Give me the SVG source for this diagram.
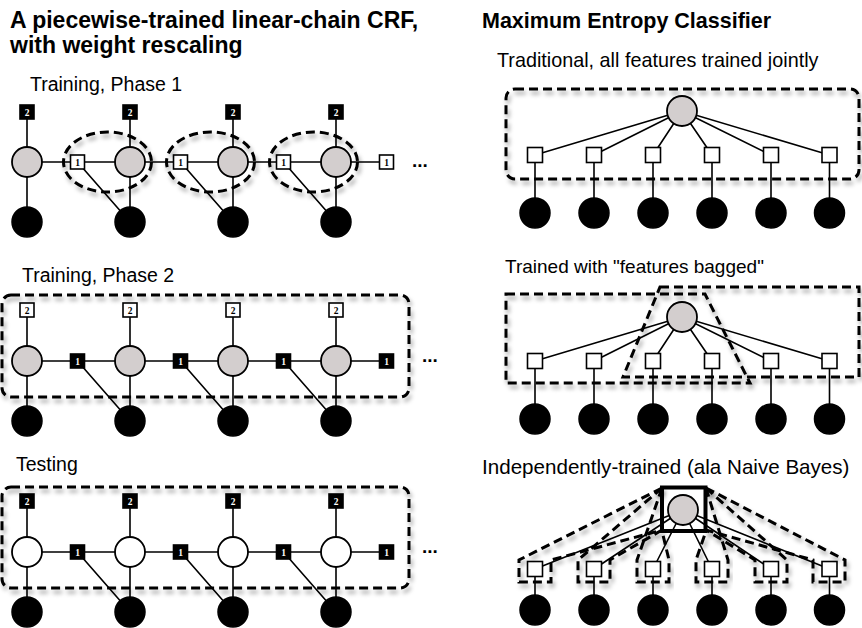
<svg xmlns="http://www.w3.org/2000/svg" width="862" height="628" viewBox="0 0 862 628">
<style>
.t{font-family:"Liberation Sans",Arial,sans-serif;fill:#000}
.title{font-size:21.5px;font-weight:bold}
.sub{font-size:19.5px}
.ln{stroke:#000;stroke-width:1.6;fill:none}
.gc{fill:#d3cece;stroke:#000;stroke-width:1.8}
.wc{fill:#fff;stroke:#000;stroke-width:1.8}
.bc{fill:#000;stroke:#000;stroke-width:1.5}
.ws{fill:#fff;stroke:#000;stroke-width:1.6}
.bs{fill:#000;stroke:#000;stroke-width:1.6}
.num{font-family:"Liberation Serif","Times New Roman",serif;font-size:9.5px;font-weight:bold;text-anchor:middle}
.nw{fill:#fff}
.nb{fill:#000}
.dash{fill:none;stroke:#000;stroke-width:3;stroke-dasharray:9 5;filter:url(#sh)}
.dots{font-family:"Liberation Sans",Arial,sans-serif;font-size:19px;font-weight:bold}
</style>
<defs>
<filter id="sh" x="-10%" y="-10%" width="125%" height="135%">
<feDropShadow dx="2" dy="4" stdDeviation="2" flood-color="#000" flood-opacity="0.35"/>
</filter>
</defs>
<rect width="862" height="628" fill="#fff"/>

<g id="titles">
<text class="t title" x="10" y="28" style="font-size:23px">A piecewise-trained linear-chain CRF,</text>
<text class="t title" x="10" y="53" style="font-size:23px">with weight rescaling</text>
<text class="t title" x="482" y="28">Maximum Entropy Classifier</text>
<text class="t sub" x="30" y="91">Training, Phase 1</text>
<text class="t sub" x="22" y="282">Training, Phase 2</text>
<text class="t sub" x="16" y="471">Testing</text>
<text class="t sub" x="497" y="67" style="font-size:19.8px">Traditional, all features trained jointly</text>
<text class="t sub" x="505" y="273" style="font-size:19px">Trained with "features bagged"</text>
<text class="t sub" x="482" y="474" style="font-size:20.6px">Independently-trained (ala Naive Bayes)</text>
</g>

<g id="connectors">
<path class="ln" d="M27 162H386.5M27 112V222M130 112V222M233 112V222M336 112V222M77.5 162L130 222M180.5 162L233 222M283.5 162L336 222"/>
<path class="ln" d="M27 361H386.5M27 310V421M130 310V421M233 310V421M336 310V421M77.5 361L130 421M180.5 361L233 421M283.5 361L336 421"/>
<path class="ln" d="M27 552H386.5M27 501V612M130 501V612M233 501V612M336 501V612M77.5 552L130 612M180.5 552L233 612M283.5 552L336 612"/>
<path class="ln" d="M682 111L535 155M682 111L594 155M682 111L653 155M682 111L712 155M682 111L771 155M682 111L829.5 155M535 155V213M594 155V213M653 155V213M712 155V213M771 155V213M829.5 155V213"/>
<path class="ln" d="M682 317L535 361M682 317L594 361M682 317L653 361M682 317L712 361M682 317L771 361M682 317L829.5 361M535 361V419M594 361V419M653 361V419M712 361V419M771 361V419M829.5 361V419"/>
<path class="ln" d="M683 510L535 569M683 510L594 569M683 510L653 569M683 510L712 569M683 510L771 569M683 510L829.5 569M535 569V610M594 569V610M653 569V610M712 569V610M771 569V610M829.5 569V610"/>
</g>

<g id="phase1">
<circle class="gc" cx="27" cy="162" r="15"/><circle class="gc" cx="130" cy="162" r="15"/><circle class="gc" cx="233" cy="162" r="15"/><circle class="gc" cx="336" cy="162" r="15"/>
<circle class="bc" cx="27" cy="222" r="15"/><circle class="bc" cx="130" cy="222" r="15"/><circle class="bc" cx="233" cy="222" r="15"/><circle class="bc" cx="336" cy="222" r="15"/>
<rect class="bs" x="20" y="105" width="14" height="14"/><rect class="bs" x="123" y="105" width="14" height="14"/><rect class="bs" x="226" y="105" width="14" height="14"/><rect class="bs" x="329" y="105" width="14" height="14"/>
<text class="num nw" x="27" y="115.5">2</text><text class="num nw" x="130" y="115.5">2</text><text class="num nw" x="233" y="115.5">2</text><text class="num nw" x="336" y="115.5">2</text>
<rect class="ws" x="70.5" y="155" width="14" height="14"/><rect class="ws" x="173.5" y="155" width="14" height="14"/><rect class="ws" x="276.5" y="155" width="14" height="14"/><rect class="ws" x="379.5" y="155" width="14" height="14"/>
<text class="num nb" x="77.5" y="165.5">1</text><text class="num nb" x="180.5" y="165.5">1</text><text class="num nb" x="283.5" y="165.5">1</text><text class="num nb" x="386.5" y="165.5">1</text>
<ellipse class="dash" cx="107.5" cy="162" rx="44" ry="30"/>
<ellipse class="dash" cx="210.5" cy="162" rx="44" ry="30"/>
<ellipse class="dash" cx="313.5" cy="162" rx="44" ry="30"/>
<text class="dots" x="412" y="167">...</text>
</g>

<g id="phase2">
<circle class="gc" cx="27" cy="361" r="15"/><circle class="gc" cx="130" cy="361" r="15"/><circle class="gc" cx="233" cy="361" r="15"/><circle class="gc" cx="336" cy="361" r="15"/>
<circle class="bc" cx="27" cy="421" r="15"/><circle class="bc" cx="130" cy="421" r="15"/><circle class="bc" cx="233" cy="421" r="15"/><circle class="bc" cx="336" cy="421" r="15"/>
<rect class="ws" x="20" y="303" width="14" height="14"/><rect class="ws" x="123" y="303" width="14" height="14"/><rect class="ws" x="226" y="303" width="14" height="14"/><rect class="ws" x="329" y="303" width="14" height="14"/>
<text class="num nb" x="27" y="313.5">2</text><text class="num nb" x="130" y="313.5">2</text><text class="num nb" x="233" y="313.5">2</text><text class="num nb" x="336" y="313.5">2</text>
<rect class="bs" x="70.5" y="354" width="14" height="14"/><rect class="bs" x="173.5" y="354" width="14" height="14"/><rect class="bs" x="276.5" y="354" width="14" height="14"/><rect class="bs" x="379.5" y="354" width="14" height="14"/>
<text class="num nw" x="77.5" y="364.5">1</text><text class="num nw" x="180.5" y="364.5">1</text><text class="num nw" x="283.5" y="364.5">1</text><text class="num nw" x="386.5" y="364.5">1</text>
<rect class="dash" x="2" y="295" width="407" height="102" rx="9"/>
<text class="dots" x="422" y="362">...</text>
</g>

<g id="testing">
<circle class="wc" cx="27" cy="552" r="15"/><circle class="wc" cx="130" cy="552" r="15"/><circle class="wc" cx="233" cy="552" r="15"/><circle class="wc" cx="336" cy="552" r="15"/>
<circle class="bc" cx="27" cy="612" r="15"/><circle class="bc" cx="130" cy="612" r="15"/><circle class="bc" cx="233" cy="612" r="15"/><circle class="bc" cx="336" cy="612" r="15"/>
<rect class="bs" x="20" y="494" width="14" height="14"/><rect class="bs" x="123" y="494" width="14" height="14"/><rect class="bs" x="226" y="494" width="14" height="14"/><rect class="bs" x="329" y="494" width="14" height="14"/>
<text class="num nw" x="27" y="504.5">2</text><text class="num nw" x="130" y="504.5">2</text><text class="num nw" x="233" y="504.5">2</text><text class="num nw" x="336" y="504.5">2</text>
<rect class="bs" x="70.5" y="545" width="14" height="14"/><rect class="bs" x="173.5" y="545" width="14" height="14"/><rect class="bs" x="276.5" y="545" width="14" height="14"/><rect class="bs" x="379.5" y="545" width="14" height="14"/>
<text class="num nw" x="77.5" y="555.5">1</text><text class="num nw" x="180.5" y="555.5">1</text><text class="num nw" x="283.5" y="555.5">1</text><text class="num nw" x="386.5" y="555.5">1</text>
<rect class="dash" x="2" y="487" width="407" height="101" rx="9"/>
<text class="dots" x="422" y="553">...</text>
</g>

<g id="traditional">
<circle class="gc" cx="682" cy="111" r="15"/>
<rect class="ws" x="527.5" y="147.5" width="15" height="15"/><rect class="ws" x="586.5" y="147.5" width="15" height="15"/><rect class="ws" x="645.5" y="147.5" width="15" height="15"/><rect class="ws" x="704.5" y="147.5" width="15" height="15"/><rect class="ws" x="763.5" y="147.5" width="15" height="15"/><rect class="ws" x="822" y="147.5" width="15" height="15"/>
<circle class="bc" cx="535" cy="213" r="15"/><circle class="bc" cx="594" cy="213" r="15"/><circle class="bc" cx="653" cy="213" r="15"/><circle class="bc" cx="712" cy="213" r="15"/><circle class="bc" cx="771" cy="213" r="15"/><circle class="bc" cx="829.5" cy="213" r="15"/>
<rect class="dash" x="506" y="89" width="353" height="90" rx="9"/>
</g>

<g id="bagged">
<circle class="gc" cx="682" cy="317" r="15"/>
<rect class="ws" x="527.5" y="353.5" width="15" height="15"/><rect class="ws" x="586.5" y="353.5" width="15" height="15"/><rect class="ws" x="645.5" y="353.5" width="15" height="15"/><rect class="ws" x="704.5" y="353.5" width="15" height="15"/><rect class="ws" x="763.5" y="353.5" width="15" height="15"/><rect class="ws" x="822" y="353.5" width="15" height="15"/>
<circle class="bc" cx="535" cy="419" r="15"/><circle class="bc" cx="594" cy="419" r="15"/><circle class="bc" cx="653" cy="419" r="15"/><circle class="bc" cx="712" cy="419" r="15"/><circle class="bc" cx="771" cy="419" r="15"/><circle class="bc" cx="829.5" cy="419" r="15"/>
<path class="dash" d="M506 294H705L750 383H506Z"/>
<path class="dash" d="M660 287H859V377H623Z"/>
</g>

<g id="independent">
<circle class="gc" cx="683" cy="510" r="15"/>
<rect x="662" y="487.5" width="43.5" height="43.5" fill="none" stroke="#000" stroke-width="4"/>
<rect class="ws" x="527.5" y="561.5" width="15" height="15"/><rect class="ws" x="586.5" y="561.5" width="15" height="15"/><rect class="ws" x="645.5" y="561.5" width="15" height="15"/><rect class="ws" x="704.5" y="561.5" width="15" height="15"/><rect class="ws" x="763.5" y="561.5" width="15" height="15"/><rect class="ws" x="822" y="561.5" width="15" height="15"/>
<circle class="bc" cx="535" cy="610" r="15"/><circle class="bc" cx="594" cy="610" r="15"/><circle class="bc" cx="653" cy="610" r="15"/><circle class="bc" cx="712" cy="610" r="15"/><circle class="bc" cx="771" cy="610" r="15"/><circle class="bc" cx="829.5" cy="610" r="15"/>
<path class="dash" d="M662 488L519 560V582H551V560L662 530"/>
<path class="dash" d="M662 488L578 560V582H610V560L662 530"/>
<path class="dash" d="M662 488L637 560V582H669V560L662 531"/>
<path class="dash" d="M706 488L728 560V582H696V560L706 531"/>
<path class="dash" d="M706 488L787 560V582H755V560L706 530"/>
<path class="dash" d="M706 488L845 560V582H813V560L706 530"/>
</g>
</svg>
